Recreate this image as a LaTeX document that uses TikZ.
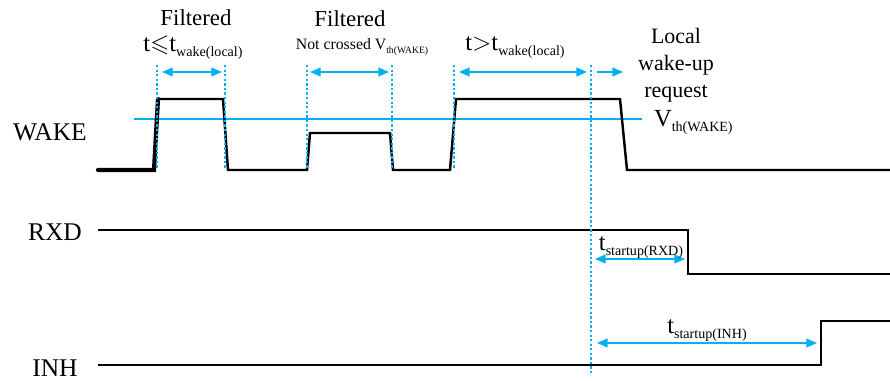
\documentclass[tikz,border=0pt]{standalone}
\usepackage{amsmath,amssymb}
\usepackage{fontspec}
\setmainfont{Liberation Serif}
\newfontfamily\timesfont{Liberation Serif}
\usepackage{xcolor}
\usepackage{tikz}
\usetikzlibrary{
    arrows.meta,
    positioning
}
\definecolor{markcyan}{RGB}{0,176,240}
\definecolor{wireblack}{RGB}{0,0,0}
\newcommand{\lowtxt}[2]{\raisebox{-.45ex}{\fontsize{#1}{#1}\selectfont #2}}

\begin{document}
\begin{tikzpicture}[
    x=0.02cm, y=-0.02cm,
    every node/.style={inner sep=0pt, outer sep=0pt},
    wire/.style={wireblack, line width=1.4pt},
    startwire/.style={wireblack, line width=2.4pt, line cap=round},
    marker/.style={markcyan, line width=0.9pt, dash pattern=on 1.3pt off 1.3pt},
    thresh/.style={markcyan, line width=0.8pt},
    dimarrow/.style={markcyan, line width=0.8pt, {Triangle[length=6pt,width=5pt]}-{Triangle[length=6pt,width=5pt]}},
    onearrow/.style={markcyan, line width=0.8pt, -{Triangle[length=6pt,width=5pt]}},
    siglabel/.style={font=\timesfont\fontsize{14.5}{14.5}\selectfont},
    toplabel/.style={font=\timesfont\fontsize{13}{13}\selectfont, align=center},
    timelabel/.style={font=\timesfont\fontsize{14}{14}\selectfont}
]
    \useasboundingbox (0,0) rectangle (890,381);

    % Signal names
    \node[siglabel] (wake) at (50,132) {WAKE};
    \node[siglabel] (rxd) at (55,232) {RXD};
    \node[siglabel] (inh) at (55,368) {INH};

    % Threshold of WAKE
    \coordinate (thl) at (134,119);
    \coordinate (thr) at (642,119);
    \draw[thresh] (thl) -- (thr);
    \node[anchor=west, timelabel] (vth) at (654,122) {V\lowtxt{8}{th(WAKE)}};

    % WAKE waveform
    \draw[wire] (98,170) -- (154,170) -- (158,99) -- (223,99) -- (228,170)
        -- (307,170) -- (310,133) -- (390,133) -- (393,170)
        -- (450,170) -- (456,99) -- (620,99) -- (627,170) -- (890,170);
    \draw[startwire] (98,170) -- (154,170) -- (158,99);

    % RXD and INH waveforms
    \draw[wire] (98,230) -- (688,230) -- (688,274) -- (890,274);
    \draw[wire] (98,365) -- (821,365) -- (821,321) -- (890,321);

    % Dotted time markers
    \foreach \name/\xpos in {m1/157, m2/225, m3/307, m4/392, m5/454} {
        \coordinate (\name top) at (\xpos,65);
        \coordinate (\name bot) at (\xpos,170);
        \draw[marker] (\name top) -- (\name bot);
    }
    \coordinate (m6top) at (591,65);
    \coordinate (m6bot) at (591,375);
    \draw[marker] (m6top) -- (m6bot);

    % Filter windows
    \coordinate (w1l) at (162,72);
    \coordinate (w1r) at (222,72);
    \coordinate (w2l) at (310,72);
    \coordinate (w2r) at (389,72);
    \coordinate (w3l) at (459,72);
    \coordinate (w3r) at (587,72);
    \coordinate (w4l) at (597,72);
    \coordinate (w4r) at (623,72);
    \draw[dimarrow] (w1l) -- (w1r);
    \draw[dimarrow] (w2l) -- (w2r);
    \draw[dimarrow] (w3l) -- (w3r);
    \draw[onearrow] (w4l) -- (w4r);

    \node[toplabel] (filt1) at (196,18) {Filtered};
    \node[timelabel] (cond1) at (193,48) {t$\leqslant$t\lowtxt{8}{wake(local)}};
    \node[toplabel] (filt2) at (350,19) {Filtered};
    \node[font=\timesfont\fontsize{9}{9}\selectfont] (cond2) at (362,47) {Not crossed V\lowtxt{5.5}{th(WAKE)}};
    \node[timelabel] (cond3) at (515,48) {t$>$t\lowtxt{8}{wake(local)}};
    \node[toplabel, font=\timesfont\fontsize{12.5}{12.5}\selectfont] (req) at (676,65)
        {Local\\[3pt]wake-up\\[3pt]request};

    % Start-up delays
    \coordinate (s1l) at (595,259);
    \coordinate (s1r) at (685,259);
    \coordinate (s2l) at (597,343);
    \coordinate (s2r) at (817,343);
    \draw[dimarrow] (s1l) -- (s1r);
    \draw[dimarrow] (s2l) -- (s2r);
    \node[timelabel] (srxd) at (641,248) {t\lowtxt{8}{startup(RXD)}};
    \node[timelabel] (sinh) at (707,331) {t\lowtxt{8}{startup(INH)}};

\end{tikzpicture}
\end{document}
